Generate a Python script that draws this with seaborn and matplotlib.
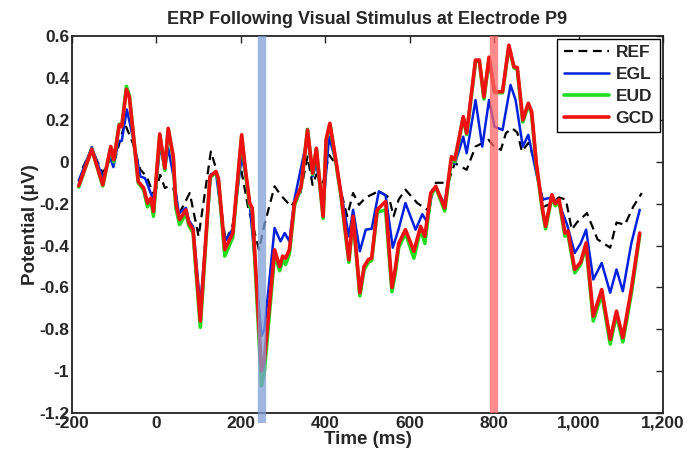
import numpy as np
import pandas as pd
import seaborn as sns
import matplotlib.pyplot as plt
from matplotlib.ticker import FuncFormatter

# Datos (tiempo en ms, potencial en uV)
t_ref = [-175, -153, -127, -108, -101, -75, -56, -38, -23, -8, -1, 9, 20, 28, 40, 53,
         79, 100, 129, 141, 164, 181, 198, 217, 243, 256, 280, 295, 319, 341, 358, 370,
         379, 395, 409, 425, 437, 452, 466, 480, 496, 527, 551, 562, 574, 590, 618, 642,
         662, 691, 707, 735, 756, 773, 787, 797, 816, 828, 843, 855, 866, 881, 893, 908,
         919, 934, 954, 970, 984, 996, 1020, 1045, 1075, 1090, 1110, 1130, 1150]
ref = [-0.03, 0.06, -0.054, 0.017, -0.01, 0.184, 0.09, -0.038, -0.07, -0.149, -0.133, -0.062,
       -0.125, -0.117, -0.125, -0.252, -0.149, -0.356, 0.049, -0.03, -0.38, -0.3, -0.006,
       -0.213, -0.419, -0.3, -0.117, -0.16, -0.213, -0.149, 0.025, -0.11, -0.06, -0.1, 0.033,
       -0.01, -0.14, -0.26, -0.149, -0.205, -0.17, -0.14, -0.17, -0.26, -0.18, -0.133,
       -0.197, -0.229, -0.1, -0.1, -0.006, -0.038, 0.073, 0.09, 0.105, 0.08, 0.057, 0.137,
       0.16, 0.14, 0.049, 0.09, 0.025, -0.117, -0.213, -0.2, -0.17, -0.18, -0.324, -0.29,
       -0.245, -0.37, -0.41, -0.29, -0.3, -0.213, -0.149]

t_egl = [-184, -153, -127, -110, -102, -90, -82, -70, -56, -38, -27, -12, -4, 9, 20, 28,
         42, 53, 70, 77, 87, 104, 129, 141, 162, 181, 202, 211, 221, 249, 256, 280, 294,
         304, 315, 327, 358, 370, 379, 395, 409, 425, 437, 456, 466, 482, 496, 510, 527,
         543, 560, 574, 590, 614, 630, 642, 654, 662, 683, 699, 707, 727, 735, 756, 772,
         788, 801, 820, 839, 851, 868, 881, 900, 915, 937, 954, 973, 991, 1005, 1018, 1035,
         1055, 1075, 1090, 1105, 1125, 1145]
egl = [-0.09, 0.07, -0.078, 0.025, -0.025, 0.097, 0.1, 0.25, 0.12, -0.07, -0.078, -0.157,
       -0.18, 0.08, -0.035, 0.065, -0.086, -0.245, -0.22, -0.28, -0.31, -0.69, -0.06, -0.05,
       -0.38, -0.32, 0.025, -0.06, -0.2, -0.83, -0.8, -0.316, -0.38, -0.34, -0.38, -0.18,
       0.12, -0.07, -0.006, -0.229, 0.12, 0.0, -0.14, -0.356, -0.229, -0.427, -0.324, -0.32,
       -0.141, -0.16, -0.41, -0.32, -0.197, -0.324, -0.25, -0.29, -0.133, -0.13, -0.2, 0.01,
       -0.01, 0.12, 0.041, 0.295, 0.073, 0.295, 0.168, 0.152, 0.367, 0.295, 0.073, 0.129,
       -0.054, -0.18, -0.17, -0.2, -0.3, -0.435, -0.39, -0.324, -0.562, -0.483, -0.625,
       -0.514, -0.618, -0.39, -0.229]

# EUD y GCD comparten la misma rejilla de tiempo
t_gcd = [-184, -153, -127, -108, -101, -88, -82, -71, -64, -43, -30, -21, -13, -7, 8, 20,
         28, 40, 46, 55, 70, 77, 87, 104, 127, 141, 147, 162, 181, 202, 211, 221, 227, 249,
         256, 280, 292, 299, 306, 315, 327, 343, 358, 370, 379, 395, 402, 411, 425, 437, 456,
         466, 482, 492, 502, 510, 523, 543, 558, 566, 574, 590, 610, 626, 636, 650, 662, 683,
         699, 707, 727, 735, 756, 765, 776, 788, 801, 820, 835, 847, 855, 868, 881, 889, 900,
         915, 922, 937, 945, 954, 968, 975, 991, 1005, 1018, 1035, 1055, 1075, 1090, 1105,
         1125, 1145]
gcd = [-0.114, 0.06, -0.11, 0.073, 0.01, 0.176, 0.168, 0.346, 0.31, -0.094, -0.125, -0.197,
       -0.173, -0.237, 0.133, -0.03, 0.16, 0.025, -0.2, -0.276, -0.229, -0.292, -0.324, -0.76,
       -0.07, -0.046, -0.08, -0.419, -0.34, 0.129, -0.038, -0.197, -0.22, -0.998, -0.943,
       -0.42, -0.5, -0.45, -0.46, -0.42, -0.197, -0.117, 0.152, -0.054, 0.065, -0.26, 0.105,
       0.184, 0.01, -0.149, -0.467, -0.26, -0.625, -0.5, -0.467, -0.46, -0.229, -0.189, -0.6,
       -0.51, -0.39, -0.324, -0.427, -0.308, -0.356, -0.149, -0.117, -0.22, 0.025, 0.01, 0.216,
       0.137, 0.486, 0.486, 0.31, 0.5, 0.335, 0.335, 0.557, 0.454, 0.45, 0.2, 0.28, 0.24,
       -0.006, -0.229, -0.308, -0.157, -0.2, -0.18, -0.34, -0.33, -0.514, -0.48, -0.387,
       -0.737, -0.61, -0.848, -0.713, -0.84, -0.61, -0.34]
eud = [-0.12, 0.06, -0.115, 0.07, 0.0, 0.18, 0.17, 0.36, 0.315, -0.1, -0.135, -0.215,
       -0.18, -0.26, 0.13, -0.04, 0.155, 0.02, -0.22, -0.3, -0.245, -0.305, -0.34, -0.79,
       -0.075, -0.05, -0.09, -0.45, -0.36, 0.12, -0.05, -0.21, -0.23, -1.07, -1.0,
       -0.44, -0.52, -0.47, -0.49, -0.44, -0.21, -0.12, 0.155, -0.06, 0.06, -0.27, 0.1,
       0.18, 0.0, -0.16, -0.48, -0.27, -0.64, -0.515, -0.48, -0.47, -0.24, -0.23, -0.62,
       -0.53, -0.41, -0.34, -0.46, -0.32, -0.39, -0.16, -0.12, -0.235, 0.015, 0.0, 0.21,
       0.13, 0.48, 0.48, 0.3, 0.49, 0.33, 0.33, 0.55, 0.45, 0.44, 0.19, 0.27, 0.23,
       -0.015, -0.24, -0.32, -0.165, -0.21, -0.19, -0.355, -0.345, -0.53, -0.49, -0.4,
       -0.76, -0.63, -0.87, -0.73, -0.86, -0.63, -0.35]

marcas = [250, 800]
colores_marca = ['#7f9fd6', '#ff6666']

xticks = [-200, 0, 200, 400, 600, 800, 1000, 1200]
yticks = [-1.2, -1, -0.8, -0.6, -0.4, -0.2, 0, 0.2, 0.4, 0.6]

series = [
    ('REF', t_ref, ref, 'black', (4, 2.5), 1.6),
    ('EGL', t_egl, egl, '#0022dd', '', 1.8),
    ('EUD', t_gcd, eud, '#22dd22', '', 2.6),
    ('GCD', t_gcd, gcd, '#ee1111', '', 2.6),
]

sns.set_style('white')
plt.rcParams['font.family'] = ['Liberation Sans', 'DejaVu Sans']
plt.rcParams['font.weight'] = 'bold'
plt.rcParams['axes.unicode_minus'] = False

fig = plt.figure(figsize=(6.92, 4.58), dpi=100)
ax = fig.add_axes([0.104, 0.098, 0.854, 0.823])

for nombre, t, v, color, dash, lw in series:
    df = pd.DataFrame({'t': t, 'v': v})
    sns.lineplot(data=df, x='t', y='v', ax=ax, color=color, linewidth=lw,
                 label=nombre, estimator=None, sort=True)
    ax.lines[-1].set_solid_joinstyle('round')
    if dash:
        ax.lines[-1].set_dashes(dash)

# franjas verticales (la azul sobresale un poco por debajo del eje)
for x, c, y0 in zip(marcas, colores_marca, [-0.025, 0.0]):
    ax.axvline(x, ymin=y0, ymax=1, color=c, linewidth=6, alpha=0.75,
               clip_on=False, zorder=5, solid_capstyle='butt')

ax.set_xlim(-200, 1200)
ax.set_ylim(-1.2, 0.6)
ax.set_xticks(xticks)
ax.set_yticks(yticks)
ax.xaxis.set_major_formatter(FuncFormatter(lambda v, p: f'{int(round(v)):,}'))
ax.yaxis.set_major_formatter(FuncFormatter(lambda v, p: f'{v:g}'))
ax.tick_params(direction='in', top=True, right=True, length=5, width=1,
               labelsize=12.5, pad=2)
for lab in ax.get_xticklabels() + ax.get_yticklabels():
    lab.set_fontweight('bold')
for s in ax.spines.values():
    s.set_linewidth(1.3)
    s.set_color('#222222')

ax.set_title('ERP Following Visual Stimulus at Electrode P9', fontsize=13,
             fontweight='bold', pad=9)
ax.set_xlabel('Time (ms)', fontsize=13.5, fontweight='bold', labelpad=0)
ax.set_ylabel('Potential (μV)', fontsize=13.5, fontweight='bold', labelpad=0)

leg = ax.legend(loc='upper right', fancybox=False, edgecolor='black', framealpha=1,
                handlelength=2.6, handletextpad=0.4, borderpad=0.35, labelspacing=0.4,
                borderaxespad=0.15, prop={'weight': 'bold', 'size': 12.5})
leg.get_frame().set_linewidth(1.0)

fig.savefig('out.png', dpi=100)
